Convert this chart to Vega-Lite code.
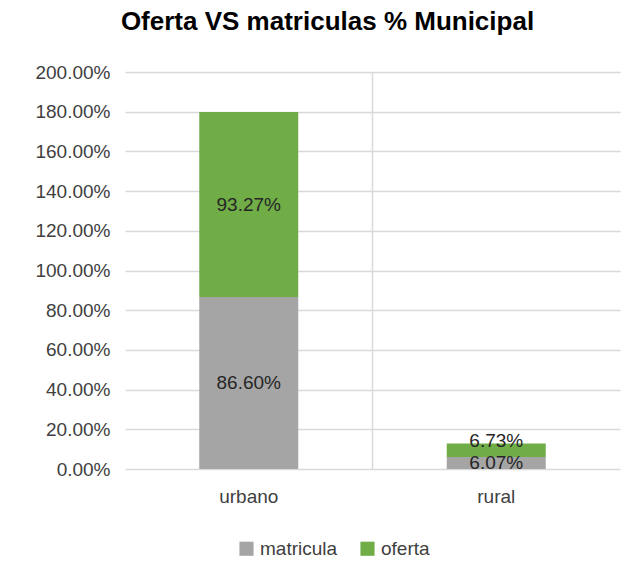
{
  "$schema": "https://vega.github.io/schema/vega-lite/v6.json",
  "width": 495,
  "height": 397,
  "autosize": "none",
  "padding": {"left": 125, "top": 72, "right": 10, "bottom": 114},
  "background": "white",
  "title": {
    "text": "Oferta VS matriculas % Municipal",
    "font": "Liberation Sans",
    "fontSize": 26,
    "fontWeight": "bold",
    "color": "#000000",
    "anchor": "middle",
    "frame": "group",
    "dx": -45,
    "offset": 28
  },
  "data": {
    "values": [
      {"cat": "urbano", "serie": "matricula", "value": 0.866},
      {"cat": "urbano", "serie": "oferta", "value": 0.9327},
      {"cat": "rural", "serie": "matricula", "value": 0.0607},
      {"cat": "rural", "serie": "oferta", "value": 0.0673}
    ]
  },
  "encoding": {
    "x": {
      "field": "cat",
      "type": "nominal",
      "sort": ["urbano", "rural"],
      "scale": {"paddingInner": 0.6, "paddingOuter": 0.3},
      "axis": {
        "title": null,
        "labelAngle": 0,
        "domain": false,
        "ticks": false,
        "grid": false,
        "labelPadding": 18,
        "labelFont": "Liberation Sans",
        "labelFontSize": 19,
        "labelColor": "#404040"
      }
    }
  },
  "layer": [
    {
      "mark": {"type": "bar"},
      "encoding": {
        "y": {
          "field": "value",
          "type": "quantitative",
          "stack": "zero",
          "scale": {"domain": [0, 2]},
          "axis": {
            "title": null,
            "format": ".2%",
            "values": [0, 0.2, 0.4, 0.6, 0.8, 1.0, 1.2, 1.4, 1.6, 1.8, 2.0],
            "labelOverlap": false,
            "domain": false,
            "ticks": false,
            "labelPadding": 15,
            "labelFont": "Liberation Sans",
            "labelFontSize": 19,
            "labelColor": "#404040",
            "gridColor": "#D9D9D9",
            "gridWidth": 1.5
          }
        },
        "color": {
          "field": "serie",
          "type": "nominal",
          "scale": {"domain": ["matricula", "oferta"], "range": ["#A5A5A5", "#70AD47"]},
          "legend": {
            "title": null,
            "orient": "none",
            "legendX": 112,
            "legendY": 467,
            "direction": "horizontal",
            "symbolType": "square",
            "symbolSize": 200,
            "symbolStrokeWidth": 0,
            "labelFont": "Liberation Sans",
            "labelFontSize": 19,
            "labelColor": "#404040",
            "columnPadding": 20
          }
        },
        "order": {"field": "serie", "sort": "ascending"}
      }
    },
    {
      "transform": [{"filter": "!(datum.cat === 'rural' && datum.serie === 'oferta')"}],
      "mark": {"type": "text", "font": "Liberation Sans", "fontSize": 19, "color": "#262626", "baseline": "middle"},
      "encoding": {
        "y": {
          "field": "value",
          "type": "quantitative",
          "stack": "zero",
          "bandPosition": 0.5,
          "scale": {"domain": [0, 2]},
          "axis": {
            "title": null,
            "format": ".2%",
            "values": [0, 0.2, 0.4, 0.6, 0.8, 1.0, 1.2, 1.4, 1.6, 1.8, 2.0],
            "labelOverlap": false,
            "domain": false,
            "ticks": false,
            "labelPadding": 15,
            "labelFont": "Liberation Sans",
            "labelFontSize": 19,
            "labelColor": "#404040",
            "gridColor": "#D9D9D9",
            "gridWidth": 1.5
          }
        },
        "detail": {"field": "serie"},
        "order": {"field": "serie", "sort": "ascending"},
        "text": {"field": "value", "type": "quantitative", "format": ".2%"}
      }
    },
    {
      "transform": [{"filter": "datum.cat === 'rural'"}],
      "mark": {"type": "text", "font": "Liberation Sans", "fontSize": 19, "color": "#262626", "baseline": "middle", "dy": -9},
      "encoding": {
        "y": {
          "field": "value",
          "type": "quantitative",
          "stack": "zero",
          "bandPosition": 0.5,
          "scale": {"domain": [0, 2]},
          "axis": {
            "title": null,
            "format": ".2%",
            "values": [0, 0.2, 0.4, 0.6, 0.8, 1.0, 1.2, 1.4, 1.6, 1.8, 2.0],
            "labelOverlap": false,
            "domain": false,
            "ticks": false,
            "labelPadding": 15,
            "labelFont": "Liberation Sans",
            "labelFontSize": 19,
            "labelColor": "#404040",
            "gridColor": "#D9D9D9",
            "gridWidth": 1.5
          }
        },
        "detail": {"field": "serie"},
        "order": {"field": "serie", "sort": "ascending"},
        "text": {"field": "value", "type": "quantitative", "format": ".2%"},
        "opacity": {"condition": {"test": "datum.serie === 'oferta'", "value": 1}, "value": 0}
      }
    },
    {
      "transform": [{"filter": "datum.cat === 'urbano' && datum.serie === 'matricula'"}],
      "mark": {"type": "rule", "color": "#D9D9D9", "strokeWidth": 1.5},
      "encoding": {
        "x": {"field": "cat", "type": "nominal", "bandPosition": 1.75}
      }
    }
  ],
  "config": {
    "view": {"stroke": null},
    "axisY": {"labelOverlap": false}
  }
}
